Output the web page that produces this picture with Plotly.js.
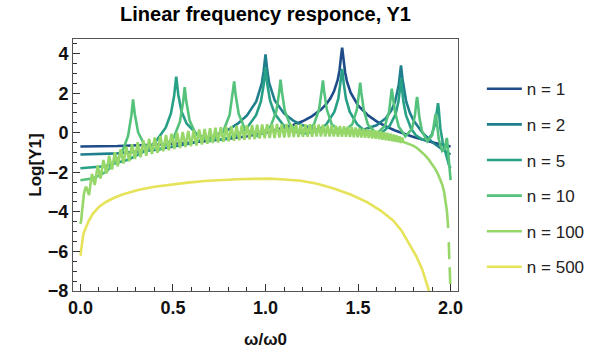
<!DOCTYPE html>
<html>
<head>
<meta charset="utf-8">
<script src="https://cdn.plot.ly/plotly-3.0.1.min.js"></script>
<style>html,body{margin:0;padding:0;background:#fff;}#chart{width:602px;height:358px;}</style>
</head>
<body>
<div id="chart"></div>
<script>
// ---- data ----
const seriesNames = ['n = 1', 'n = 2', 'n = 5', 'n = 10', 'n = 100', 'n = 500'];
const seriesColors = ['#1d4c89', '#1f7f8c', '#27a085', '#54c27b', '#97d76a', '#e6e35a'];

const n1x = [0, 0.2, 0.4, 0.6, 0.8, 0.9, 1.0, 1.1, 1.15, 1.2, 1.25, 1.3, 1.33, 1.35, 1.37, 1.39, 1.40, 1.41, 1.4142, 1.42, 1.43, 1.44, 1.46, 1.5, 1.55, 1.6, 1.65, 1.7, 1.8, 1.9, 1.95, 2.0];
const n1y = [-0.693, -0.673, -0.610, -0.495, -0.307, -0.174, 0, 0.236, 0.389, 0.580, 0.827, 1.171, 1.465, 1.729, 2.094, 2.668, 3.164, 4.014, 4.30, 3.85, 3.06, 2.593, 2.03, 1.386, 0.910, 0.58, 0.325, 0.117, -0.215, -0.476, -0.589, -0.693];

const n2x = [0, 0.2, 0.4, 0.6, 0.7, 0.8, 0.85, 0.9, 0.95, 0.98, 0.99, 1.0, 1.01, 1.02, 1.05, 1.1, 1.15, 1.2, 1.3, 1.4, 1.5, 1.6, 1.65, 1.68, 1.7, 1.72, 1.725, 1.732, 1.74, 1.75, 1.76, 1.78, 1.8, 1.85, 1.9, 1.95, 2.0];
const n2y = [-1.099, -1.044, -0.869, -0.524, -0.247, 0.163, 0.459, 0.877, 1.587, 2.49, 3.11, 3.96, 3.12, 2.51, 1.63, 0.978, 0.614, 0.376, 0.101, 0.0016, 0.0645, 0.376, 0.738, 1.128, 1.571, 2.43, 2.84, 3.40, 2.73, 2.016, 1.586, 1.007, 0.621, -0.023, -0.465, -0.810, -1.099];

const n5x = [0, 0.1308, 0.2611, 0.3473, 0.4044, 0.4614, 0.4894, 0.5064, 0.5176, 0.5290, 0.5458, 0.5736, 0.6292, 0.6840, 0.7654, 0.8452, 0.8976, 0.9491, 0.9749, 0.9900, 1.0, 1.0100, 1.0251, 1.0502, 1.0993, 1.1472, 1.2175, 1.2856, 1.3295, 1.3724, 1.3935, 1.4060, 1.4142, 1.4223, 1.4347, 1.4549, 1.4946, 1.5321, 1.5867, 1.6383, 1.6711, 1.7029, 1.7182, 1.7272, 1.7321, 1.7370, 1.7455, 1.7594, 1.7862, 1.8121, 1.8478, 1.8794, 1.8985, 1.9162, 1.9243, 1.9290, 1.9319, 1.9350, 1.9387, 1.9449, 1.9577, 1.9697, 1.9829, 1.9924, 2.0];
const n5y = [-1.792, -1.690, -1.352, -0.930, -0.485, 0.268, 0.992, 1.869, 2.84, 1.910, 1.093, 0.470, -0.074, -0.299, -0.347, -0.124, 0.221, 0.888, 1.572, 2.414, 3.29, 2.428, 1.606, 0.956, 0.356, 0.081, -0.035, 0.128, 0.434, 1.064, 1.726, 2.524, 3.23, 2.524, 1.726, 1.064, 0.434, 0.128, -0.035, 0.080, 0.355, 0.947, 1.575, 2.278, 2.74, 2.264, 1.541, 0.879, 0.218, -0.126, -0.35, -0.303, -0.088, 0.426, 0.943, 1.377, 1.50, 1.30, 0.835, 0.219, -0.509, -0.946, -1.375, -1.673, -1.792];

const n10x = [0, 0.0714, 0.1427, 0.2216, 0.2576, 0.2757, 0.2846, 0.2937, 0.3118, 0.3474, 0.4251, 0.5023, 0.5373, 0.5549, 0.5635, 0.5722, 0.5897, 0.6242, 0.6990, 0.7725, 0.8060, 0.8225, 0.8308, 0.8391, 0.8555, 0.8882, 0.9585, 1.0272, 1.0585, 1.0738, 1.0813, 1.0890, 1.1040, 1.1338, 1.1983, 1.2611, 1.2895, 1.3028, 1.3103, 1.3168, 1.3311, 1.3575, 1.4142, 1.4691, 1.4940, 1.5055, 1.5115, 1.5174, 1.5305, 1.5532, 1.6010, 1.6459, 1.6679, 1.6777, 1.6825, 1.6873, 1.6997, 1.7199, 1.7556, 1.7916, 1.8074, 1.8148, 1.8190, 1.8230, 1.8304, 1.8452, 1.8741, 1.9008, 1.9102, 1.9160, 1.9190, 1.9216, 1.9260, 1.9360, 1.9544, 1.9702, 1.9762, 1.9785, 1.9796, 1.9810, 1.9833, 1.9876, 1.9949, 2.0];
const n10y = [-2.398, -2.297, -1.951, -1.076, -0.161, 0.886, 1.69, 0.948, 0.026, -0.636, -0.880, -0.285, 0.544, 1.548, 2.31, 1.576, 0.629, -0.086, -0.425, 0.097, 0.897, 1.878, 2.6, 1.894, 0.944, 0.208, -0.175, 0.309, 1.090, 2.043, 2.69, 2.051, 1.115, 0.367, -0.043, 0.412, 1.177, 2.093, 2.65, 2.095, 1.185, 0.431, -0.003, 0.429, 1.177, 2.051, 2.53, 2.048, 1.170, 0.411, -0.045, 0.360, 1.084, 1.876, 2.23, 1.868, 1.059, 0.302, -0.179, 0.194, 0.881, 1.565, 1.81, 1.549, 0.834, 0.083, -0.435, -0.129, 0.455, 0.892, 0.95, 0.864, 0.370, -0.328, -0.914, -0.774, -0.426, -0.270, -0.265, -0.332, -0.613, -1.214, -2.188, -2.40];

const n100x = [0, 0.004, 0.008, 0.013, 0.019, 0.025,
  0.0311, 0.0466, 0.0622, 0.0777, 0.0933, 0.1088, 0.1243, 0.1398, 0.1554, 0.1708, 0.1863, 0.2018, 0.2173, 0.2327, 0.2482, 0.2636, 0.2790, 0.2944, 0.3098, 0.3251, 0.3404, 0.3557, 0.3711, 0.3863, 0.4016, 0.4168, 0.4320, 0.4472, 0.4624, 0.4775, 0.4926, 0.5077, 0.5227, 0.5377, 0.5527, 0.5676, 0.5825, 0.5974, 0.6122, 0.6270, 0.6418, 0.6565, 0.6712, 0.6858, 0.7004, 0.7150, 0.7295, 0.7440, 0.7584, 0.7728, 0.7871, 0.8014, 0.8156, 0.8298, 0.8439, 0.8580, 0.8720, 0.8859, 0.8998, 0.9137, 0.9275, 0.9412, 0.9549, 0.9685, 0.9821, 0.9956, 1.0090,
  1.0224, 1.0357, 1.0489, 1.0621, 1.0752, 1.0883, 1.1013, 1.1142, 1.1271, 1.1399, 1.1526, 1.1652, 1.1778, 1.1903, 1.2027, 1.2151, 1.2274, 1.2396, 1.2517, 1.2638, 1.2758, 1.2877, 1.2995, 1.3112, 1.3229, 1.3345, 1.3460, 1.3574, 1.3687, 1.3800, 1.3911, 1.4022, 1.4132, 1.4241, 1.4349, 1.4456, 1.4562, 1.4668, 1.4772, 1.4876, 1.4979, 1.5081, 1.5182, 1.5282, 1.5381, 1.5479, 1.5576, 1.5672, 1.5767, 1.5862, 1.5955, 1.6047, 1.6138, 1.6229, 1.6318, 1.6407, 1.6494, 1.6581, 1.6666, 1.6751, 1.6834, 1.6917, 1.6998, 1.7078, 1.7157, 1.7236, 1.7313, 1.7389,
  1.745, 1.76, 1.78, 1.80, 1.82, 1.84, 1.86, 1.88, 1.90, 1.915, 1.93, 1.945, 1.956, 1.965, 1.974, 1.980, 1.984, 1.987, null, 1.990, 1.993, null, 1.995, 1.998];
const n100y = [-4.61, -4.45, -4.05, -3.5, -3.1, -2.85,
  -2.72, -3.15, -2.08, -2.64, -1.67, -2.31, -1.38, -2.06, -1.16, -1.86, -0.98, -1.70, -0.83, -1.56, -0.70, -1.44, -0.58, -1.33, -0.48, -1.24, -0.388, -1.16, -0.308, -1.08, -0.235, -1.01, -0.169, -0.942, -0.108, -0.881, -0.053, -0.824, -0.003, -0.771, 0.045, -0.722, 0.089, -0.677, 0.126, -0.64, 0.163, -0.596, 0.197, -0.56, 0.228, -0.525, 0.258, -0.492, 0.284, -0.462, 0.308, -0.434, 0.329, -0.406, 0.350, -0.380, 0.370, -0.357, 0.382, -0.335, 0.397, -0.315, 0.411, -0.296, 0.4225, -0.278, 0.434,
  -0.27, 0.437, -0.26, 0.438, -0.245, 0.439, -0.235, 0.439, -0.228, 0.438, -0.22, 0.437, -0.213, 0.436, -0.204, 0.433, -0.2, 0.428, -0.197, 0.422, -0.195, 0.414, -0.193, 0.403, -0.192, 0.392, -0.193, 0.38, -0.195, 0.36, -0.198, 0.345, -0.202, 0.33, -0.207, 0.315, -0.213, 0.29, -0.222, 0.265, -0.232, 0.24, -0.245, 0.22, -0.255, 0.195, -0.27, 0.165, -0.285, 0.13, -0.305, 0.10, -0.33, 0.07, -0.35, 0.035, -0.375, -0.005, -0.40, -0.04, -0.425, -0.09, -0.455, -0.13, -0.48, -0.18, -0.51, -0.25,
  -0.47, -0.52, -0.57, -0.66, -0.78, -0.93, -1.12, -1.33, -1.58, -1.8, -2.05, -2.38, -2.65, -3.0, -3.45, -3.95, -4.4, -4.82, null, -5.53, -6.39, null, -6.8, -7.65];

const n500x = [0, 0.001, 0.003, 0.006, 0.01, 0.015, 0.02, 0.031, 0.045, 0.067, 0.1, 0.138, 0.18, 0.227, 0.27, 0.316, 0.4, 0.494, 0.58, 0.672, 0.76, 0.85, 0.93, 1.02, 1.1, 1.19, 1.28, 1.368, 1.46, 1.546, 1.62, 1.688, 1.735, 1.777, 1.815, 1.848, 1.884, 1.9];
const n500y = [-6.22, -6.2, -6.0, -5.75, -5.45, -5.2, -5.02, -4.76, -4.45, -4.1, -3.75, -3.5, -3.3, -3.12, -2.99, -2.88, -2.73, -2.61, -2.52, -2.44, -2.38, -2.35, -2.33, -2.32, -2.36, -2.43, -2.58, -2.82, -3.12, -3.49, -3.92, -4.42, -4.95, -5.6, -6.25, -6.94, -7.95, -8.5];

const xTickVals = [0, 0.5, 1.0, 1.5, 2.0];
const xTickText = ['0.0', '0.5', '1.0', '1.5', '2.0'];
const yTickVals = [-8, -6, -4, -2, 0, 2, 4];
const yTickText = ['\u22128', '\u22126', '\u22124', '\u22122', '0', '2', '4'];

const xs = [n1x, n2x, n5x, n10x, n100x, n500x];
const ys = [n1y, n2y, n5y, n10y, n100y, n500y];

const traces = seriesNames.map((name, i) => ({
  x: xs[i], y: ys[i], name: name, type: 'scatter', mode: 'lines',
  line: {color: seriesColors[i], width: 2.6},
  legendgroup: 'g' + i, connectgaps: false, cliponaxis: true
}));

const FONT = 'Liberation Sans, Arial, Helvetica, sans-serif';
const layout = {
  width: 602, height: 358,
  margin: {l: 73, r: 140, t: 39, b: 67},
  paper_bgcolor: '#ffffff', plot_bgcolor: '#ffffff',
  showlegend: true,
  title: {text: 'Linear frequency responce, Y1', x: 0.5, xref: 'paper', y: 0.962, yref: 'container', yanchor: 'middle',
    font: {family: FONT, size: 20, color: '#000', weight: 'bold'}},
  xaxis: {range: [-0.04, 2.04], tickmode: 'array', tickvals: xTickVals, ticktext: xTickText,
    ticks: 'inside', ticklen: 7, tickwidth: 1, tickcolor: '#333',
    minor: {tickmode: 'linear', tick0: 0, dtick: 0.1, ticks: 'inside', ticklen: 4, tickcolor: '#333', showgrid: false},
    showline: true, linecolor: '#555', linewidth: 1, mirror: true, showgrid: false, zeroline: false,
    tickfont: {family: FONT, size: 18, color: '#111', weight: 'bold'},
    title: {text: '\u03c9/\u03c90', font: {family: FONT, size: 17, color: '#111', weight: 'bold'}, standoff: 16}},
  yaxis: {range: [-8, 4.74], tickmode: 'array', tickvals: yTickVals, ticktext: yTickText,
    ticks: 'inside', ticklen: 7, tickwidth: 1, tickcolor: '#333',
    minor: {tickmode: 'linear', tick0: 0, dtick: 0.5, ticks: 'inside', ticklen: 4, tickcolor: '#333', showgrid: false},
    showline: true, linecolor: '#555', linewidth: 1, mirror: true, showgrid: false, zeroline: false,
    tickfont: {family: FONT, size: 18, color: '#111', weight: 'bold'},
    title: {text: 'Log[Y1]', font: {family: FONT, size: 17, color: '#111', weight: 'bold'}, standoff: 1}},
  legend: {x: 1.062, xanchor: 'left', y: 0.872, yanchor: 'top', bgcolor: 'rgba(0,0,0,0)',
    font: {family: FONT, size: 17, color: '#222'}, tracegroupgap: 10.5, itemwidth: 35, traceorder: 'grouped'}
};

Plotly.newPlot('chart', traces, layout, {staticPlot: true, displayModeBar: false});
</script>
</body>
</html>
